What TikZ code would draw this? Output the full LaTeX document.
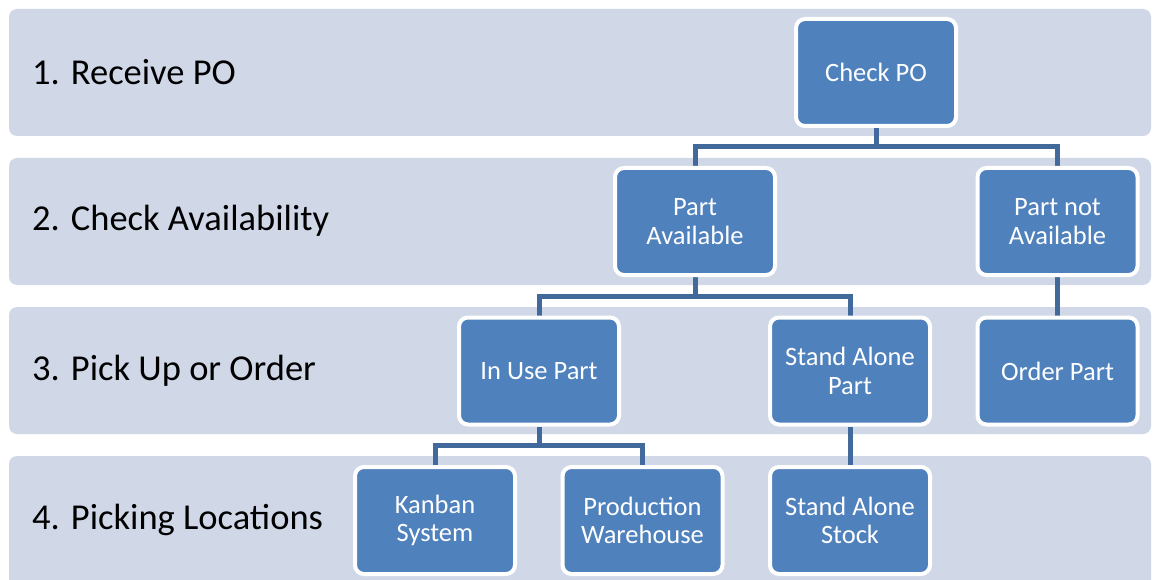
\documentclass[tikz,border=0pt]{standalone}
\usepackage{fontspec}
\setmainfont{Carlito}
\usetikzlibrary{backgrounds,calc}
\definecolor{bandfill}{HTML}{D0D8E8}
\definecolor{boxfill}{HTML}{4F81BD}
\definecolor{linkcol}{HTML}{41699B}
\tikzset{
  band/.style={fill=bandfill, rounded corners=8pt},
  level/.style={anchor=west, font=\fontsize{36.5}{40}\selectfont, text=black, inner sep=0pt},
  stepbox/.style={draw=white, line width=4pt, fill=boxfill, rounded corners=9pt,
    minimum width=160pt, minimum height=107pt, align=center, text=white,
    font=\fontsize{26.5}{28.5}\selectfont, inner sep=0pt},
  link/.style={draw=linkcol, line width=5pt}
}
\begin{document}
\begin{tikzpicture}[x=1pt, y=-1pt]
\useasboundingbox (0,0) rectangle (1153,580);
\clip (0,0) rectangle (1153,580);

% horizontal bands
\begin{pgfonlayer}{background}
\fill[band] (9,9) rectangle (1151,136);
\fill[band] (9,158) rectangle (1151,285);
\fill[band] (9,307) rectangle (1151,434);
\fill[band] (9,456) rectangle (1151,590);
\end{pgfonlayer}

% level captions
\node[level] (l1) at (32,72) {1. Receive PO};
\node[level] (l2) at (32,221) {2. Check Availability};
\node[level] (l3) at (32,370.5) {3. Pick Up or Order};
\node[level] (l4) at (32,520) {4. Picking Locations};

% process boxes
\node[stepbox] (checkpo) at (876,72.5) {Check PO};
\node[stepbox] (avail) at (695,221.5) {Part\\Available};
\node[stepbox] (notavail) at (1057.5,221.5) {Part not\\Available};
\node[stepbox] (inuse) at (539,371) {In Use Part};
\node[stepbox] (standalone) at (850,371) {Stand Alone\\Part};
\node[stepbox] (order) at (1057.5,371) {Order Part};
\node[stepbox] (kanban) at (435,520.5) {Kanban\\System};
\node[stepbox] (prodwh) at (642.5,520.5) {Production\\Warehouse};
\node[stepbox] (stock) at (850,520.5) {Stand Alone\\Stock};

% connectors
\begin{pgfonlayer}{background}
\draw[link] (checkpo.south) -- ($(checkpo.south)+(0,19)$) coordinate (j1);
\draw[link] (avail.north) |- (j1) -| (notavail.north);
\draw[link] (avail.south) -- ($(avail.south)+(0,19.5)$) coordinate (j2);
\draw[link] (inuse.north) |- (j2) -| (standalone.north);
\draw[link] (notavail.south) -- (order.north);
\draw[link] (inuse.south) -- ($(inuse.south)+(0,19)$) coordinate (j3);
\draw[link] (kanban.north) |- (j3) -| (prodwh.north);
\draw[link] (standalone.south) -- (stock.north);
\end{pgfonlayer}
\end{tikzpicture}
\end{document}
